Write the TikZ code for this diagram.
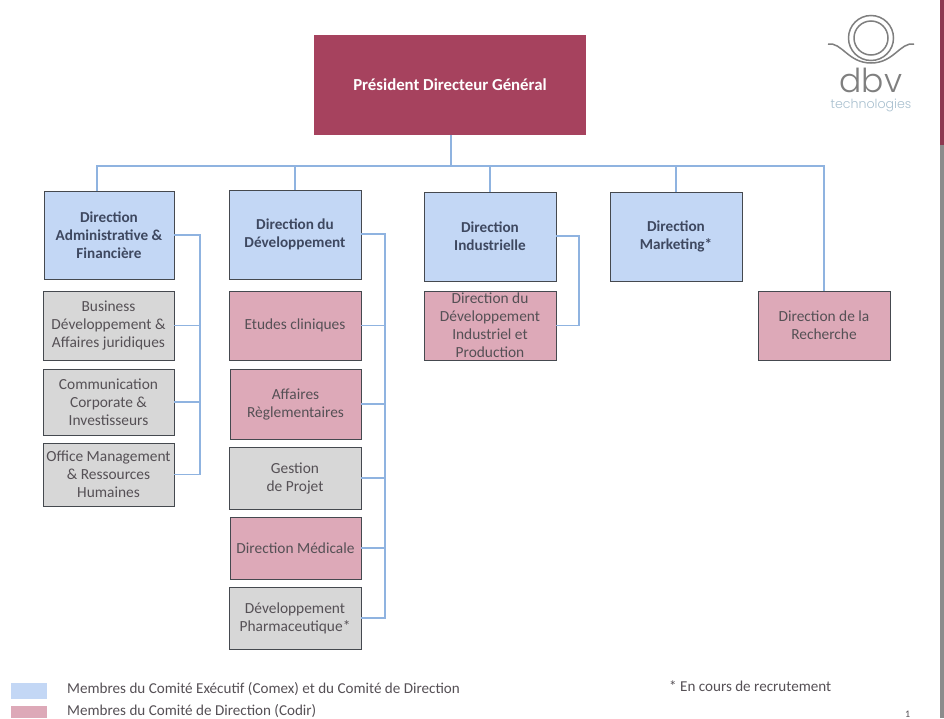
\documentclass[tikz,border=0pt]{standalone}
\usepackage{fontspec}
\setmainfont{Carlito}
\newfontfamily\logofont{Poppins Light}
\definecolor{cblue}{HTML}{C3D7F5}
\definecolor{cpink}{HTML}{DDA9B8}
\definecolor{cgray}{HTML}{D7D7D7}
\definecolor{ccrim}{HTML}{A6425E}
\definecolor{cline}{HTML}{8FB3E0}
\definecolor{cedge}{HTML}{45494F}
\definecolor{clogo}{HTML}{7F7F7F}
\definecolor{ctitle}{HTML}{3E4860}
\definecolor{ctext}{HTML}{555055}
\definecolor{csub}{HTML}{A9C0CF}
\tikzset{
  x=1pt,y=-1pt,
  base/.style={draw=cedge,line width=0.9pt,align=center,inner sep=0pt,font=\fontsize{15.4}{18}\selectfont},
  blue/.style={base,fill=cblue,text=ctitle,font=\fontsize{15.2}{18}\selectfont\bfseries},
  pink/.style={base,fill=cpink,text=ctext},
  gray/.style={base,fill=cgray,text=ctext},
  pres/.style={fill=ccrim,text=white,align=center,font=\fontsize{16.8}{18}\selectfont\bfseries},
  link/.style={draw=cline,line width=1.1pt},
  legend/.style={anchor=west,inner sep=0pt,text=ctext,font=\fontsize{15.1}{15}\selectfont},
  swatch/.style={inner sep=0pt,draw=none},
  logoline/.style={draw=clogo,line width=1.5pt}
}
\newcommand{\bx}[7]{\node[#2,minimum width=#5pt-#3pt,minimum height=#6pt-#4pt] (#1) at ({(#3+#5)/2},{(#4+#6)/2}) {#7};}
\begin{document}
\begin{tikzpicture}
\useasboundingbox (0,0) rectangle (944,718);
\fill[white] (0,0) rectangle (944,718);
% right edge band
\fill[ccrim!85!black] (940,0) rectangle (944,145);
\fill[black!45] (940,145) rectangle (944,718);
% bus coordinates
\coordinate (bus) at (451,166);
\coordinate (atop) at (97,191);
\coordinate (atrunk) at (200,235);
\coordinate (btrunk) at (385,234);
\coordinate (ctrunk) at (579,236);
% boxes
\bx{president}{pres}{314}{35}{586}{135}{Président Directeur Général}
\bx{dA}{blue}{44}{191}{174}{279}{Direction\\Administrative \&\\Financière}
\bx{dB}{blue}{229}{190}{361}{279}{Direction du\\Développement}
\bx{dC}{blue}{424}{192}{556}{281}{Direction\\Industrielle}
\bx{dD}{blue}{610}{192}{742}{281}{Direction\\Marketing*}
\bx{dE}{pink}{758}{291}{890}{360}{Direction de la\\Recherche}
\bx{a1}{gray}{43}{291}{174}{360}{Business\\Développement \&\\Affaires juridiques}
\bx{a2}{gray}{43}{369}{174}{435}{Communication\\Corporate \&\\Investisseurs}
\bx{a3}{gray}{43}{443}{174}{506}{Office Management\\\& Ressources\\Humaines}
\bx{b1}{pink}{229}{291}{361}{360}{Etudes cliniques}
\bx{b2}{pink}{230}{369}{361}{439}{Affaires\\Règlementaires}
\bx{b3}{gray}{229}{447}{361}{509}{Gestion\\de Projet}
\bx{b4}{pink}{230}{517}{361}{579}{Direction Médicale}
\bx{b5}{gray}{229}{587}{361}{649}{Développement\\Pharmaceutique*}
\bx{c1}{pink}{424}{291}{556}{360}{Direction du\\Développement\\Industriel et\\Production}
% connectors
\draw[link] (bus |- president.south) -- (bus);
\draw[link] (bus) -| (atop);
\draw[link] (bus) -| (dB.north);
\draw[link] (bus) -| (dC.north);
\draw[link] (bus) -| (dD.north);
\draw[link] (bus) -| (dE.north);
\draw[link] (dA.east |- atrunk) -- (atrunk) |- (a3.east);
\draw[link] (a1.east) -- (a1.east -| atrunk);
\draw[link] (a2.east) -- (a2.east -| atrunk);
\draw[link] (dB.east |- btrunk) -- (btrunk) |- (b5.east);
\draw[link] (b1.east) -- (b1.east -| btrunk);
\draw[link] (b2.east) -- (b2.east -| btrunk);
\draw[link] (b3.east) -- (b3.east -| btrunk);
\draw[link] (b4.east) -- (b4.east -| btrunk);
\draw[link] (dC.east |- ctrunk) -- (ctrunk) |- (c1.east);
% logo
\draw[logoline] (871,38) circle (22.5);
\draw[logoline] (871,38) circle (17);
\draw[logoline] (828,44) .. controls (842,42) and (848,63) .. (871,63) .. controls (894,63) and (900,42) .. (914,44);
\node[inner sep=0pt,text=clogo,font=\logofont\fontsize{33}{33}\selectfont] (logoname) at (871,80) {dbv};
\node[inner sep=0pt,text=csub,font=\logofont\fontsize{12.6}{14}\selectfont] (logosub) at (871,105) {technologies};
% legend
\node[swatch,fill=cblue,minimum width=36pt,minimum height=16pt] (s1) at (29,691) {};
\node[swatch,fill=cpink,minimum width=36pt,minimum height=12pt] (s2) at (29,712) {};
\node[legend] (l1) at (67,689) {Membres du Comité Exécutif (Comex) et du Comité de Direction};
\node[legend] (l2) at (67,711) {Membres du Comité de Direction (Codir)};
\node[legend] (l3) at (669,686) {* En cours de recrutement};
\node[legend,font=\fontsize{10}{12}\selectfont] (pg) at (905,714) {1};
\end{tikzpicture}
\end{document}
